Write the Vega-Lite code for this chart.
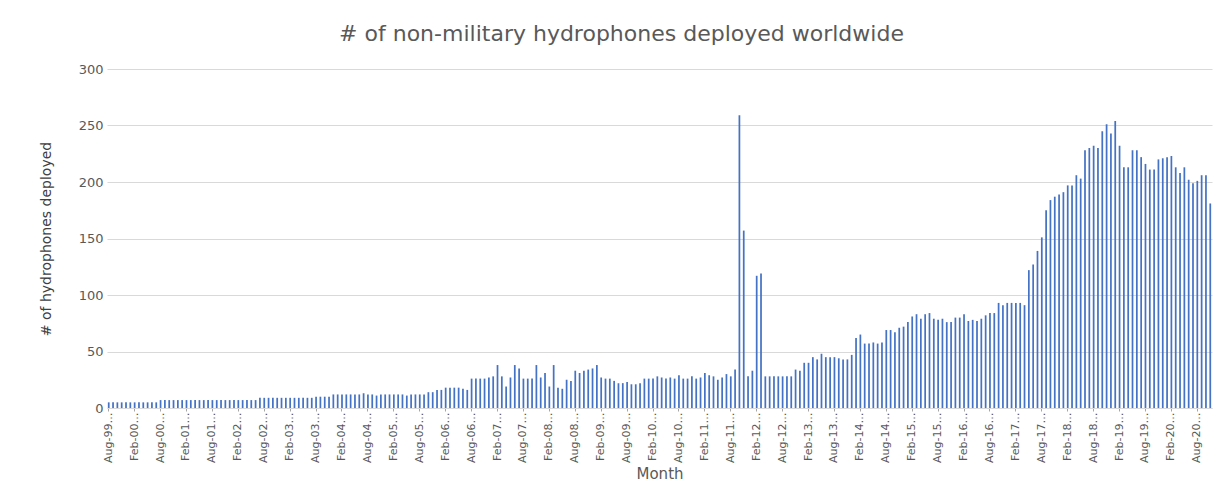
{
  "$schema": "https://vega.github.io/schema/vega-lite/v6.json",
  "width": 1105,
  "height": 339,
  "autosize": {"type": "none"},
  "padding": {"left": 107, "top": 69, "right": 9, "bottom": 91},
  "background": "white",
  "title": {
    "text": "# of non-military hydrophones deployed worldwide",
    "font": "DejaVu Sans",
    "fontSize": 22,
    "fontWeight": "normal",
    "color": "#595959",
    "anchor": "middle",
    "frame": "group",
    "dx": -38,
    "offset": 17
  },
  "data": {
    "values": [
      {"month": "Aug-99", "count": 5}, {"month": "Sep-99", "count": 5}, {"month": "Oct-99", "count": 5}, {"month": "Nov-99", "count": 5}, {"month": "Dec-99", "count": 5},
      {"month": "Jan-00", "count": 5}, {"month": "Feb-00", "count": 5}, {"month": "Mar-00", "count": 5}, {"month": "Apr-00", "count": 5}, {"month": "May-00", "count": 5}, {"month": "Jun-00", "count": 5}, {"month": "Jul-00", "count": 5}, {"month": "Aug-00", "count": 7}, {"month": "Sep-00", "count": 7}, {"month": "Oct-00", "count": 7}, {"month": "Nov-00", "count": 7}, {"month": "Dec-00", "count": 7},
      {"month": "Jan-01", "count": 7}, {"month": "Feb-01", "count": 7}, {"month": "Mar-01", "count": 7}, {"month": "Apr-01", "count": 7}, {"month": "May-01", "count": 7}, {"month": "Jun-01", "count": 7}, {"month": "Jul-01", "count": 7}, {"month": "Aug-01", "count": 7}, {"month": "Sep-01", "count": 7}, {"month": "Oct-01", "count": 7}, {"month": "Nov-01", "count": 7}, {"month": "Dec-01", "count": 7},
      {"month": "Jan-02", "count": 7}, {"month": "Feb-02", "count": 7}, {"month": "Mar-02", "count": 7}, {"month": "Apr-02", "count": 7}, {"month": "May-02", "count": 7}, {"month": "Jun-02", "count": 7}, {"month": "Jul-02", "count": 9}, {"month": "Aug-02", "count": 9}, {"month": "Sep-02", "count": 9}, {"month": "Oct-02", "count": 9}, {"month": "Nov-02", "count": 9}, {"month": "Dec-02", "count": 9},
      {"month": "Jan-03", "count": 9}, {"month": "Feb-03", "count": 9}, {"month": "Mar-03", "count": 9}, {"month": "Apr-03", "count": 9}, {"month": "May-03", "count": 9}, {"month": "Jun-03", "count": 9}, {"month": "Jul-03", "count": 9}, {"month": "Aug-03", "count": 10}, {"month": "Sep-03", "count": 10}, {"month": "Oct-03", "count": 10}, {"month": "Nov-03", "count": 10}, {"month": "Dec-03", "count": 12},
      {"month": "Jan-04", "count": 12}, {"month": "Feb-04", "count": 12}, {"month": "Mar-04", "count": 12}, {"month": "Apr-04", "count": 12}, {"month": "May-04", "count": 12}, {"month": "Jun-04", "count": 12}, {"month": "Jul-04", "count": 13}, {"month": "Aug-04", "count": 12}, {"month": "Sep-04", "count": 12}, {"month": "Oct-04", "count": 11}, {"month": "Nov-04", "count": 12}, {"month": "Dec-04", "count": 12},
      {"month": "Jan-05", "count": 12}, {"month": "Feb-05", "count": 12}, {"month": "Mar-05", "count": 12}, {"month": "Apr-05", "count": 12}, {"month": "May-05", "count": 11}, {"month": "Jun-05", "count": 12}, {"month": "Jul-05", "count": 12}, {"month": "Aug-05", "count": 12}, {"month": "Sep-05", "count": 12}, {"month": "Oct-05", "count": 14}, {"month": "Nov-05", "count": 14}, {"month": "Dec-05", "count": 16},
      {"month": "Jan-06", "count": 16}, {"month": "Feb-06", "count": 18}, {"month": "Mar-06", "count": 18}, {"month": "Apr-06", "count": 18}, {"month": "May-06", "count": 18}, {"month": "Jun-06", "count": 17}, {"month": "Jul-06", "count": 16}, {"month": "Aug-06", "count": 26}, {"month": "Sep-06", "count": 26}, {"month": "Oct-06", "count": 26}, {"month": "Nov-06", "count": 26}, {"month": "Dec-06", "count": 27},
      {"month": "Jan-07", "count": 28}, {"month": "Feb-07", "count": 38}, {"month": "Mar-07", "count": 28}, {"month": "Apr-07", "count": 19}, {"month": "May-07", "count": 27}, {"month": "Jun-07", "count": 38}, {"month": "Jul-07", "count": 35}, {"month": "Aug-07", "count": 26}, {"month": "Sep-07", "count": 26}, {"month": "Oct-07", "count": 26}, {"month": "Nov-07", "count": 38}, {"month": "Dec-07", "count": 27},
      {"month": "Jan-08", "count": 31}, {"month": "Feb-08", "count": 19}, {"month": "Mar-08", "count": 38}, {"month": "Apr-08", "count": 18}, {"month": "May-08", "count": 17}, {"month": "Jun-08", "count": 25}, {"month": "Jul-08", "count": 24}, {"month": "Aug-08", "count": 33}, {"month": "Sep-08", "count": 31}, {"month": "Oct-08", "count": 33}, {"month": "Nov-08", "count": 34}, {"month": "Dec-08", "count": 35},
      {"month": "Jan-09", "count": 38}, {"month": "Feb-09", "count": 27}, {"month": "Mar-09", "count": 26}, {"month": "Apr-09", "count": 26}, {"month": "May-09", "count": 24}, {"month": "Jun-09", "count": 22}, {"month": "Jul-09", "count": 22}, {"month": "Aug-09", "count": 23}, {"month": "Sep-09", "count": 21}, {"month": "Oct-09", "count": 21}, {"month": "Nov-09", "count": 22}, {"month": "Dec-09", "count": 26},
      {"month": "Jan-10", "count": 26}, {"month": "Feb-10", "count": 26}, {"month": "Mar-10", "count": 28}, {"month": "Apr-10", "count": 27}, {"month": "May-10", "count": 26}, {"month": "Jun-10", "count": 27}, {"month": "Jul-10", "count": 26}, {"month": "Aug-10", "count": 29}, {"month": "Sep-10", "count": 26}, {"month": "Oct-10", "count": 26}, {"month": "Nov-10", "count": 28}, {"month": "Dec-10", "count": 26},
      {"month": "Jan-11", "count": 27}, {"month": "Feb-11", "count": 31}, {"month": "Mar-11", "count": 29}, {"month": "Apr-11", "count": 28}, {"month": "May-11", "count": 25}, {"month": "Jun-11", "count": 27}, {"month": "Jul-11", "count": 30}, {"month": "Aug-11", "count": 28}, {"month": "Sep-11", "count": 34}, {"month": "Oct-11", "count": 259}, {"month": "Nov-11", "count": 157}, {"month": "Dec-11", "count": 28},
      {"month": "Jan-12", "count": 33}, {"month": "Feb-12", "count": 117}, {"month": "Mar-12", "count": 119}, {"month": "Apr-12", "count": 28}, {"month": "May-12", "count": 28}, {"month": "Jun-12", "count": 28}, {"month": "Jul-12", "count": 28}, {"month": "Aug-12", "count": 28}, {"month": "Sep-12", "count": 28}, {"month": "Oct-12", "count": 28}, {"month": "Nov-12", "count": 34}, {"month": "Dec-12", "count": 33},
      {"month": "Jan-13", "count": 40}, {"month": "Feb-13", "count": 40}, {"month": "Mar-13", "count": 45}, {"month": "Apr-13", "count": 43}, {"month": "May-13", "count": 48}, {"month": "Jun-13", "count": 45}, {"month": "Jul-13", "count": 45}, {"month": "Aug-13", "count": 45}, {"month": "Sep-13", "count": 44}, {"month": "Oct-13", "count": 43}, {"month": "Nov-13", "count": 43}, {"month": "Dec-13", "count": 47},
      {"month": "Jan-14", "count": 62}, {"month": "Feb-14", "count": 65}, {"month": "Mar-14", "count": 57}, {"month": "Apr-14", "count": 57}, {"month": "May-14", "count": 58}, {"month": "Jun-14", "count": 57}, {"month": "Jul-14", "count": 58}, {"month": "Aug-14", "count": 69}, {"month": "Sep-14", "count": 69}, {"month": "Oct-14", "count": 67}, {"month": "Nov-14", "count": 71}, {"month": "Dec-14", "count": 72},
      {"month": "Jan-15", "count": 76}, {"month": "Feb-15", "count": 81}, {"month": "Mar-15", "count": 83}, {"month": "Apr-15", "count": 79}, {"month": "May-15", "count": 83}, {"month": "Jun-15", "count": 84}, {"month": "Jul-15", "count": 79}, {"month": "Aug-15", "count": 78}, {"month": "Sep-15", "count": 79}, {"month": "Oct-15", "count": 76}, {"month": "Nov-15", "count": 76}, {"month": "Dec-15", "count": 80},
      {"month": "Jan-16", "count": 80}, {"month": "Feb-16", "count": 83}, {"month": "Mar-16", "count": 77}, {"month": "Apr-16", "count": 78}, {"month": "May-16", "count": 77}, {"month": "Jun-16", "count": 79}, {"month": "Jul-16", "count": 82}, {"month": "Aug-16", "count": 84}, {"month": "Sep-16", "count": 84}, {"month": "Oct-16", "count": 93}, {"month": "Nov-16", "count": 91}, {"month": "Dec-16", "count": 93},
      {"month": "Jan-17", "count": 93}, {"month": "Feb-17", "count": 93}, {"month": "Mar-17", "count": 93}, {"month": "Apr-17", "count": 91}, {"month": "May-17", "count": 122}, {"month": "Jun-17", "count": 127}, {"month": "Jul-17", "count": 139}, {"month": "Aug-17", "count": 151}, {"month": "Sep-17", "count": 175}, {"month": "Oct-17", "count": 184}, {"month": "Nov-17", "count": 187}, {"month": "Dec-17", "count": 189},
      {"month": "Jan-18", "count": 191}, {"month": "Feb-18", "count": 197}, {"month": "Mar-18", "count": 197}, {"month": "Apr-18", "count": 206}, {"month": "May-18", "count": 203}, {"month": "Jun-18", "count": 228}, {"month": "Jul-18", "count": 230}, {"month": "Aug-18", "count": 232}, {"month": "Sep-18", "count": 230}, {"month": "Oct-18", "count": 245}, {"month": "Nov-18", "count": 251}, {"month": "Dec-18", "count": 243},
      {"month": "Jan-19", "count": 254}, {"month": "Feb-19", "count": 232}, {"month": "Mar-19", "count": 213}, {"month": "Apr-19", "count": 213}, {"month": "May-19", "count": 228}, {"month": "Jun-19", "count": 228}, {"month": "Jul-19", "count": 222}, {"month": "Aug-19", "count": 216}, {"month": "Sep-19", "count": 211}, {"month": "Oct-19", "count": 211}, {"month": "Nov-19", "count": 220}, {"month": "Dec-19", "count": 221},
      {"month": "Jan-20", "count": 222}, {"month": "Feb-20", "count": 223}, {"month": "Mar-20", "count": 213}, {"month": "Apr-20", "count": 208}, {"month": "May-20", "count": 213}, {"month": "Jun-20", "count": 202}, {"month": "Jul-20", "count": 199}, {"month": "Aug-20", "count": 201}, {"month": "Sep-20", "count": 206}, {"month": "Oct-20", "count": 206}, {"month": "Nov-20", "count": 181}
    ]
  },
  "mark": {"type": "bar", "color": "#4472C4"},
  "encoding": {
    "x": {
      "field": "month",
      "type": "ordinal",
      "sort": null,
      "scale": {"paddingInner": 0.6, "paddingOuter": 0.2},
      "axis": {
        "title": "Month",
        "titleFont": "DejaVu Sans",
        "titleFontSize": 15,
        "titleFontWeight": "normal",
        "titleColor": "#595959",
        "titlePadding": 4,
        "values": ["Aug-99","Feb-00","Aug-00","Feb-01","Aug-01","Feb-02","Aug-02","Feb-03","Aug-03","Feb-04","Aug-04","Feb-05","Aug-05","Feb-06","Aug-06","Feb-07","Aug-07","Feb-08","Aug-08","Feb-09","Aug-09","Feb-10","Aug-10","Feb-11","Aug-11","Feb-12","Aug-12","Feb-13","Aug-13","Feb-14","Aug-14","Feb-15","Aug-15","Feb-16","Aug-16","Feb-17","Aug-17","Feb-18","Aug-18","Feb-19","Aug-19","Feb-20","Aug-20"],
        "labelExpr": "datum.value + '…'",
        "labelAngle": 270,
        "labelAlign": "right",
        "labelBaseline": "middle",
        "labelFont": "DejaVu Sans",
        "labelFontSize": 11,
        "labelColor": "#595959",
        "labelPadding": 1,
        "labelOverlap": false,
        "domainColor": "#D9D9D9",
        "tickColor": "#A6A6A6",
        "tickSize": 3,
        "grid": false
      }
    },
    "y": {
      "field": "count",
      "type": "quantitative",
      "scale": {"domain": [0, 300], "nice": false},
      "axis": {
        "title": "# of hydrophones deployed",
        "titleFont": "DejaVu Sans",
        "titleFontSize": 14,
        "titleFontWeight": "normal",
        "titleColor": "#404040",
        "titlePadding": 25,
        "values": [0, 50, 100, 150, 200, 250, 300],
        "labelFont": "DejaVu Sans",
        "labelFontSize": 13,
        "labelColor": "#595959",
        "labelPadding": 4,
        "domain": false,
        "ticks": false,
        "grid": true,
        "gridColor": "#D9D9D9",
        "gridWidth": 1
      }
    }
  },
  "config": {"view": {"stroke": null}}
}
